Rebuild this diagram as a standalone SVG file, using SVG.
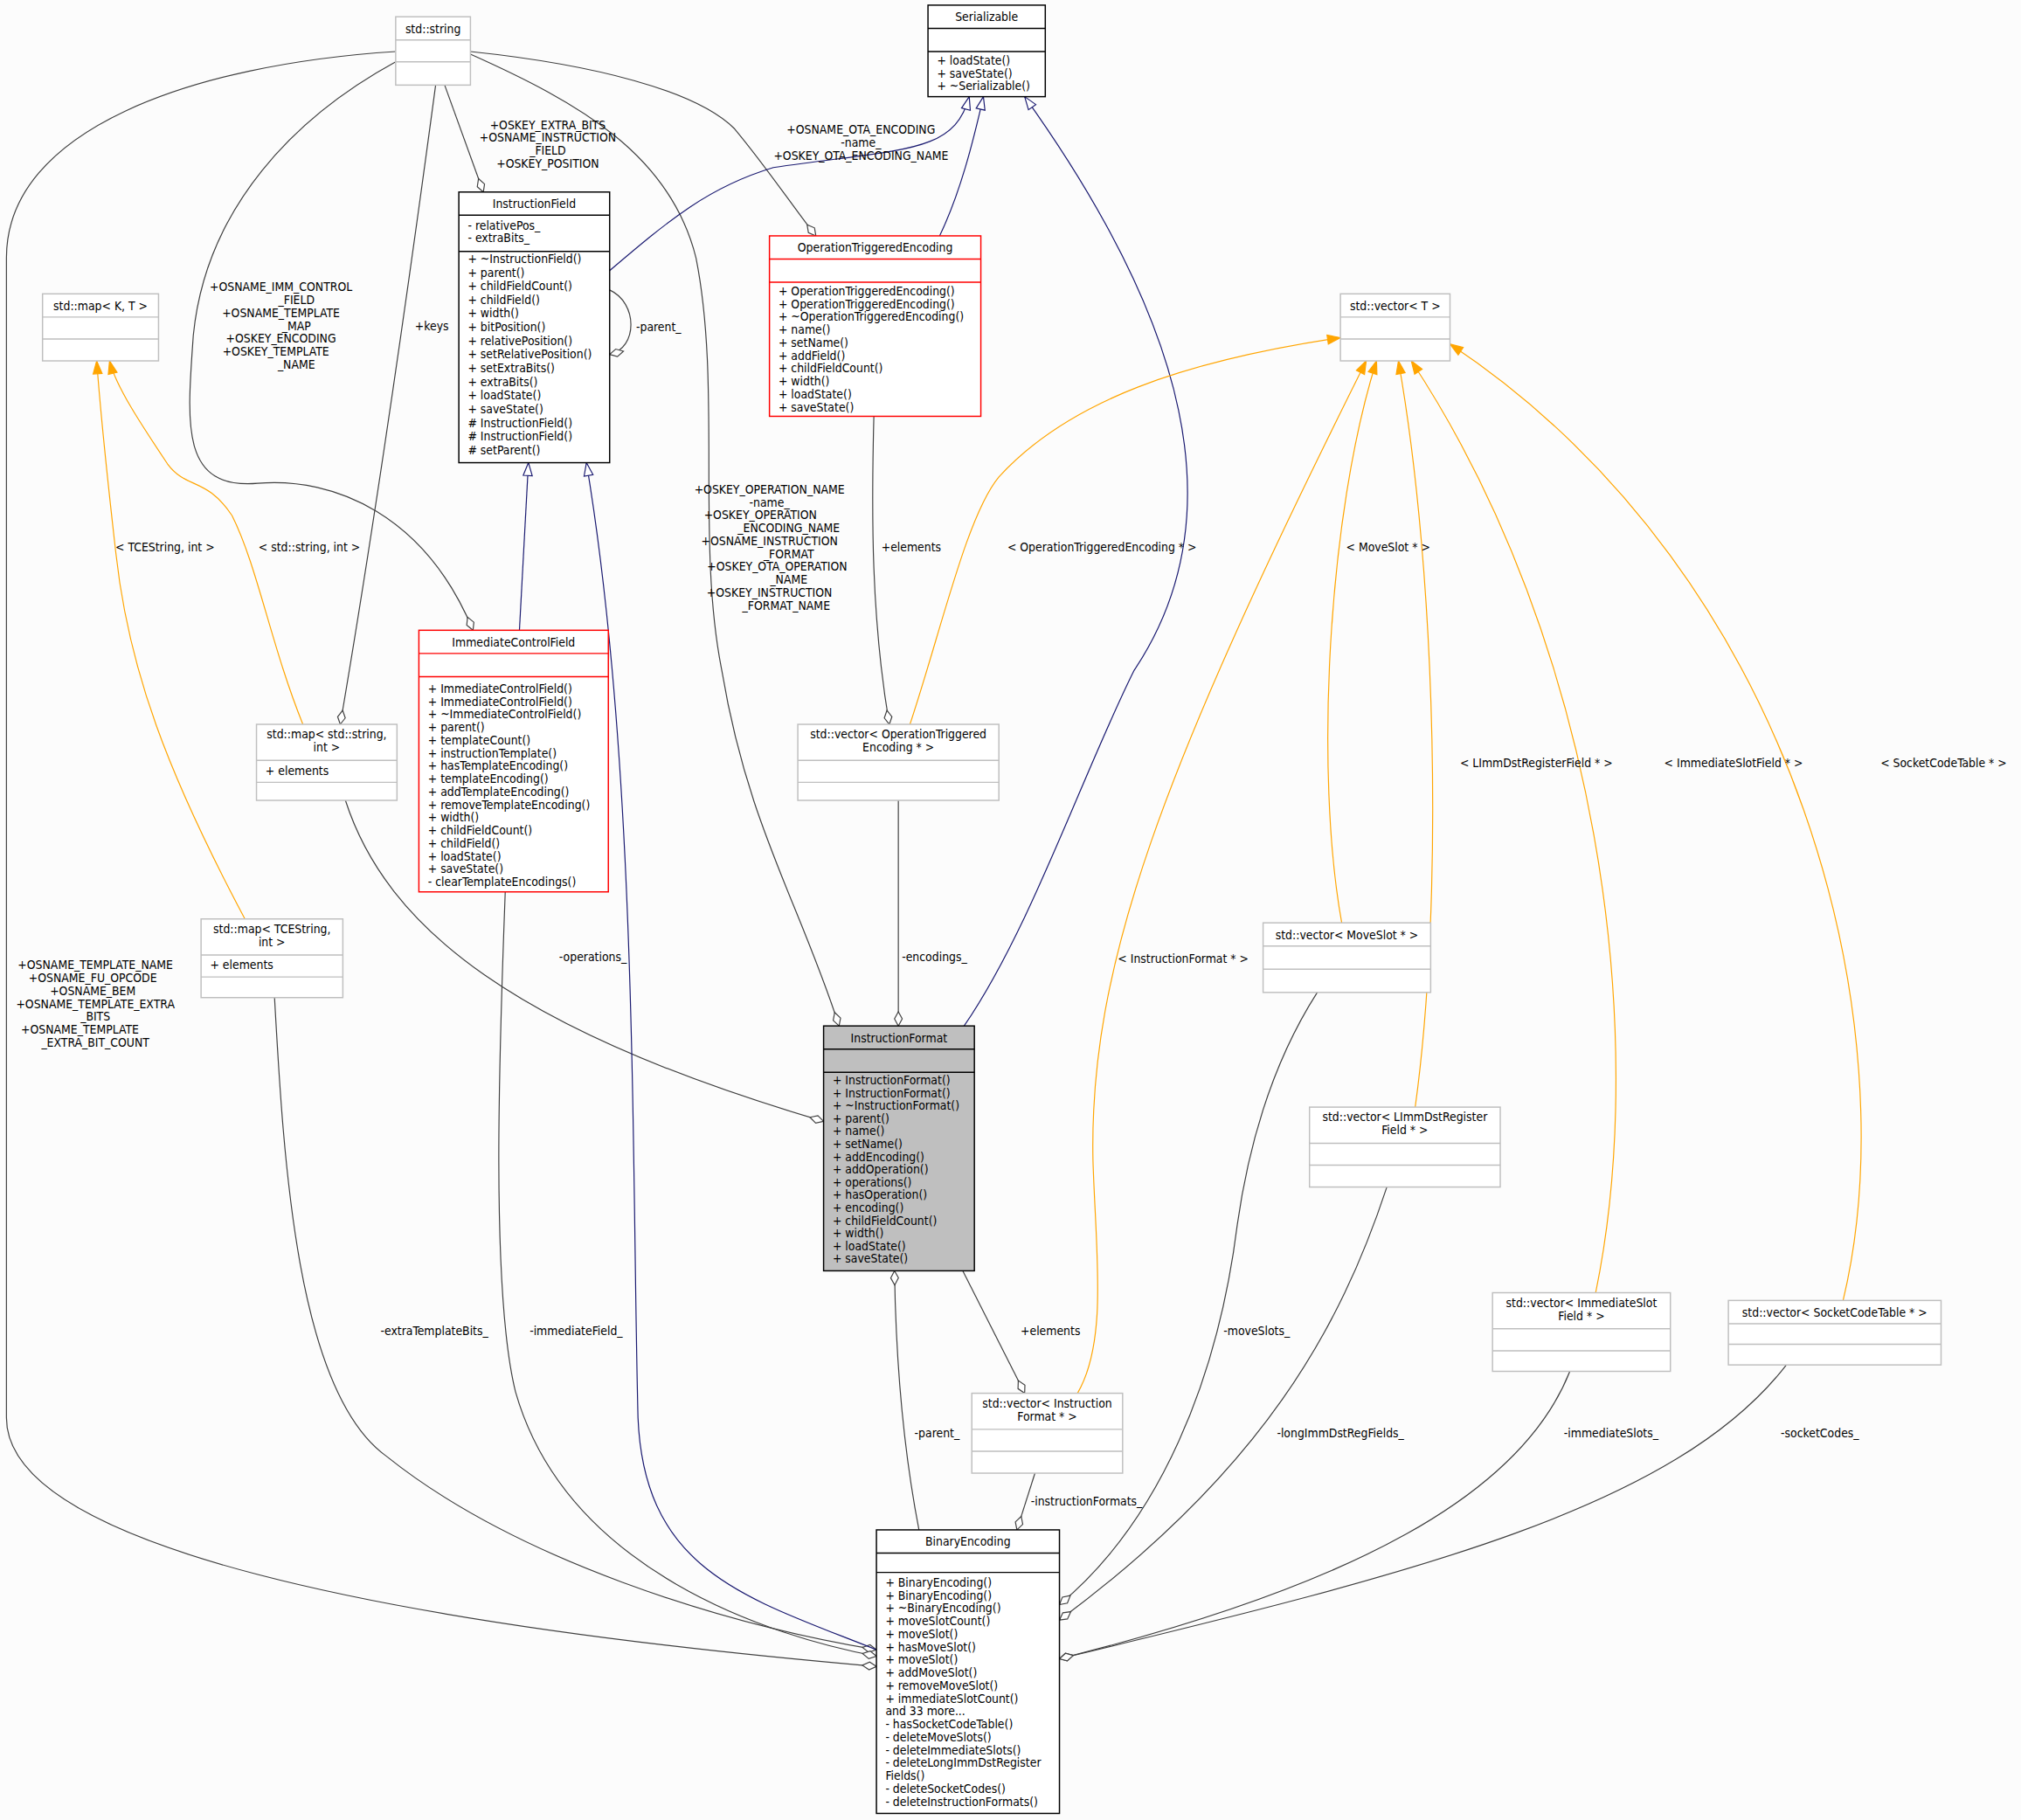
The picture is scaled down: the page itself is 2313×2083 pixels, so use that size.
<svg xmlns="http://www.w3.org/2000/svg" width="2313" height="2083" viewBox="0 0 2313 2083">
<style>
text{font-family:"DejaVu Sans Condensed","Liberation Sans",sans-serif;font-size:9.4px;fill:#000}
.c{text-anchor:middle}
.bk{fill:#fff;stroke:#000;stroke-width:1}
.gr{fill:#fff;stroke:#bfbfbf;stroke-width:1}
.rd{fill:#fff;stroke:#ff0000;stroke-width:1}
.gy{fill:#bfbfbf;stroke:#000;stroke-width:1}
.a{fill:none;stroke:#404040;stroke-width:0.8;marker-end:url(#dia)}
.i{fill:none;stroke:#191970;stroke-width:0.8;marker-end:url(#tri)}
.t{fill:none;stroke:#ffa500;stroke-width:0.8;marker-end:url(#otri)}
</style>
<defs>
<marker id="dia" markerUnits="userSpaceOnUse" markerWidth="14" markerHeight="10" refX="12" refY="5" orient="auto" viewBox="0 0 14 10"><path d="M12,5 L6.5,2 L1,5 L6.5,8 Z" fill="#fff" stroke="#404040" stroke-width="0.8"/></marker>
<marker id="tri" markerUnits="userSpaceOnUse" markerWidth="12" markerHeight="10" refX="11" refY="5" orient="auto" viewBox="0 0 12 10"><path d="M11,5 L1,1.5 L1,8.5 Z" fill="#fff" stroke="#191970" stroke-width="0.8"/></marker>
<marker id="otri" markerUnits="userSpaceOnUse" markerWidth="12" markerHeight="10" refX="11" refY="5" orient="auto" viewBox="0 0 12 10"><path d="M11,5 L1,1.5 L1,8.5 Z" fill="#ffa500" stroke="#ffa500" stroke-width="0.8"/></marker>
</defs>
<rect width="2313" height="2083" fill="#fcfcfc"/>
<g transform="scale(1.4751)">
<g id="edges">
<path class="a" d="M345,66 L375,149"/>
<path class="a" d="M365,40 C460,50 540,70 570,100 C595,130 615,160 633,183"/>
<path class="a" d="M307,48 C230,90 160,160 150,260 C145,330 140,380 200,375 C260,370 330,400 367,489"/>
<path class="a" d="M338,66 C320,200 295,380 264,562"/>
<path class="a" d="M365,42 C450,80 520,120 540,200 C560,300 540,420 560,520 C580,640 620,700 651,796"/>
<path class="a" d="M307,40 C150,50 5,100 5,200 L5,1100 C5,1200 300,1260 680,1293"/>
<path class="a" d="M473,225 C495,235 495,270 473,275"/>
<path class="a" d="M678,323 C676,400 676,480 690,562"/>
<path class="a" d="M268,621 C300,720 400,800 639,870"/>
<path class="a" d="M697,621 L697,796"/>
<path class="a" d="M747,986 L795,1081"/>
<path class="a" d="M713,1187 C700,1120 695,1050 694,986"/>
<path class="a" d="M803,1143 L789,1187"/>
<path class="a" d="M213,774 C220,900 230,1080 300,1130 C400,1210 560,1260 680,1280"/>
<path class="a" d="M392,692 C388,800 380,1000 400,1080 C440,1220 600,1270 680,1285"/>
<path class="a" d="M1022,770 C990,820 970,880 960,950 C945,1070 900,1180 822,1245"/>
<path class="a" d="M1076,921 C1040,1030 980,1140 822,1257"/>
<path class="a" d="M1218,1064 C1180,1160 1050,1230 822,1287"/>
<path class="a" d="M1386,1059 C1300,1170 1100,1220 822,1287"/>
<path class="i" d="M473,210 C520,170 550,145 600,130 C700,115 740,120 752,75"/>
<path class="i" d="M729,183 C745,150 755,110 763,75"/>
<path class="i" d="M748,796 C800,720 840,600 880,520 C960,400 920,250 795,75"/>
<path class="i" d="M403,489 L410,359"/>
<path class="i" d="M680,1280 C580,1240 500,1220 495,1100 C490,900 495,600 455,359"/>
<path class="t" d="M235,562 C210,500 200,440 180,400 C160,370 145,380 130,360 C110,330 90,300 85,280"/>
<path class="t" d="M190,713 C130,600 100,520 90,430 C82,360 78,320 75,280"/>
<path class="t" d="M706,562 C730,490 750,400 775,370 C830,310 920,280 1040,262"/>
<path class="t" d="M1041,716 C1020,600 1030,400 1068,280"/>
<path class="t" d="M836,1081 C860,1040 850,970 848,900 C845,750 900,600 1060,280"/>
<path class="t" d="M1098,859 C1120,700 1115,450 1085,280"/>
<path class="t" d="M1238,1003 C1280,800 1240,500 1095,280"/>
<path class="t" d="M1430,1009 C1480,800 1400,450 1125,267"/>
<g class="lbl">
<text class="c" x="425" y="100">+OSKEY_EXTRA_BITS</text><text class="c" x="425" y="110">+OSNAME_INSTRUCTION</text><text class="c" x="425" y="120">_FIELD</text><text class="c" x="425" y="130">+OSKEY_POSITION</text>
<text class="c" x="668" y="104">+OSNAME_OTA_ENCODING</text><text class="c" x="668" y="114">-name_</text><text class="c" x="668" y="124">+OSKEY_OTA_ENCODING_NAME</text>
<text class="c" x="218" y="226">+OSNAME_IMM_CONTROL</text><text class="c" x="230" y="236">_FIELD</text><text class="c" x="218" y="246">+OSNAME_TEMPLATE</text><text class="c" x="230" y="256">_MAP</text><text class="c" x="218" y="266">+OSKEY_ENCODING</text><text class="c" x="214" y="276">+OSKEY_TEMPLATE</text><text class="c" x="230" y="286">_NAME</text>
<text class="c" x="335" y="256">+keys</text>
<text class="c" x="511" y="257">-parent_</text>
<text class="c" x="597" y="383">+OSKEY_OPERATION_NAME</text><text class="c" x="597" y="393">-name_</text><text class="c" x="590" y="403">+OSKEY_OPERATION</text><text class="c" x="612" y="413">_ENCODING_NAME</text><text class="c" x="597" y="423">+OSNAME_INSTRUCTION</text><text class="c" x="612" y="433">_FORMAT</text><text class="c" x="603" y="443">+OSKEY_OTA_OPERATION</text><text class="c" x="612" y="453">_NAME</text><text class="c" x="597" y="463">+OSKEY_INSTRUCTION</text><text class="c" x="610" y="473">_FORMAT_NAME</text>
<text class="c" x="707" y="428">+elements</text>
<text class="c" x="128" y="428">&lt; TCEString, int &gt;</text>
<text class="c" x="240" y="428">&lt; std::string, int &gt;</text>
<text class="c" x="855" y="428">&lt; OperationTriggeredEncoding * &gt;</text>
<text class="c" x="1077" y="428">&lt; MoveSlot * &gt;</text>
<text class="c" x="1192" y="595">&lt; LImmDstRegisterField * &gt;</text>
<text class="c" x="1345" y="595">&lt; ImmediateSlotField * &gt;</text>
<text class="c" x="1508" y="595">&lt; SocketCodeTable * &gt;</text>
<text class="c" x="918" y="747">&lt; InstructionFormat * &gt;</text>
<text class="c" x="74" y="752">+OSNAME_TEMPLATE_NAME</text><text class="c" x="72" y="762">+OSNAME_FU_OPCODE</text><text class="c" x="72" y="772">+OSNAME_BEM</text><text class="c" x="74" y="782">+OSNAME_TEMPLATE_EXTRA</text><text class="c" x="74" y="792">_BITS</text><text class="c" x="62" y="802">+OSNAME_TEMPLATE</text><text class="c" x="74" y="812">_EXTRA_BIT_COUNT</text>
<text class="c" x="460" y="746">-operations_</text>
<text class="c" x="725" y="746">-encodings_</text>
<text class="c" x="337" y="1036">-extraTemplateBits_</text>
<text class="c" x="447" y="1036">-immediateField_</text>
<text class="c" x="815" y="1036">+elements</text>
<text class="c" x="975" y="1036">-moveSlots_</text>
<text class="c" x="727" y="1115">-parent_</text>
<text class="c" x="1040" y="1115">-longImmDstRegFields_</text>
<text class="c" x="1250" y="1115">-immediateSlots_</text>
<text class="c" x="1412" y="1115">-socketCodes_</text>
<text class="c" x="843" y="1168">-instructionFormats_</text>
</g>
</g>
<g id="std_string"><rect class="gr" x="307" y="13" width="58" height="53"/><path d="M307,31H365M307,48H365" stroke="#bfbfbf"/><text class="c" x="336" y="25.5">std::string</text></g>
<g id="Serializable"><rect class="bk" x="720" y="4" width="91" height="71"/><path d="M720,22H811M720,40H811" stroke="#000"/><text class="c" x="765.5" y="16.5">Serializable</text><text x="727" y="50">+ loadState()</text><text x="727" y="60">+ saveState()</text><text x="727" y="70">+ ~Serializable()</text></g>
<g id="InstructionField"><rect class="bk" x="356" y="149" width="117" height="210"/><path d="M356,167H473M356,195H473" stroke="#000"/><text class="c" x="414.5" y="161.5">InstructionField</text>
<text x="363" y="178">- relativePos_</text><text x="363" y="188">- extraBits_</text>
<text x="363" y="204">+ ~InstructionField()</text><text x="363" y="214.6">+ parent()</text><text x="363" y="225.2">+ childFieldCount()</text><text x="363" y="235.8">+ childField()</text><text x="363" y="246.4">+ width()</text><text x="363" y="257">+ bitPosition()</text><text x="363" y="267.6">+ relativePosition()</text><text x="363" y="278.2">+ setRelativePosition()</text><text x="363" y="288.8">+ setExtraBits()</text><text x="363" y="299.4">+ extraBits()</text><text x="363" y="310">+ loadState()</text><text x="363" y="320.6">+ saveState()</text><text x="363" y="331.2"># InstructionField()</text><text x="363" y="341.8"># InstructionField()</text><text x="363" y="352.4"># setParent()</text><text x="363" y="363" display="none"></text></g>
<g id="InstructionField_last"><text x="363" y="353.5" display="none"></text></g>
<g id="OperationTriggeredEncoding"><rect class="rd" x="597" y="183" width="164" height="140"/><path d="M597,201H761M597,219H761" stroke="#ff0000"/><text class="c" x="679" y="195.5">OperationTriggeredEncoding</text>
<text x="604" y="229">+ OperationTriggeredEncoding()</text><text x="604" y="239">+ OperationTriggeredEncoding()</text><text x="604" y="249">+ ~OperationTriggeredEncoding()</text><text x="604" y="259">+ name()</text><text x="604" y="269">+ setName()</text><text x="604" y="279">+ addField()</text><text x="604" y="289">+ childFieldCount()</text><text x="604" y="299">+ width()</text><text x="604" y="309">+ loadState()</text><text x="604" y="319">+ saveState()</text></g>
<g id="map_KT"><rect class="gr" x="33" y="228" width="90" height="52"/><path d="M33,246H123M33,263H123" stroke="#bfbfbf"/><text class="c" x="78" y="240.5">std::map&lt; K, T &gt;</text></g>
<g id="vector_T"><rect class="gr" x="1040" y="228" width="85" height="52"/><path d="M1040,246H1125M1040,263H1125" stroke="#bfbfbf"/><text class="c" x="1082.5" y="240.5">std::vector&lt; T &gt;</text></g>
<g id="ImmediateControlField"><rect class="rd" x="325" y="489" width="147" height="203"/><path d="M325,507H472M325,525H472" stroke="#ff0000"/><text class="c" x="398.5" y="501.5">ImmediateControlField</text>
<text x="332" y="537.5">+ ImmediateControlField()</text><text x="332" y="547.5">+ ImmediateControlField()</text><text x="332" y="557.5">+ ~ImmediateControlField()</text><text x="332" y="567.5">+ parent()</text><text x="332" y="577.5">+ templateCount()</text><text x="332" y="587.5">+ instructionTemplate()</text><text x="332" y="597.5">+ hasTemplateEncoding()</text><text x="332" y="607.5">+ templateEncoding()</text><text x="332" y="617.5">+ addTemplateEncoding()</text><text x="332" y="627.5">+ removeTemplateEncoding()</text><text x="332" y="637.5">+ width()</text><text x="332" y="647.5">+ childFieldCount()</text><text x="332" y="657.5">+ childField()</text><text x="332" y="667.5">+ loadState()</text><text x="332" y="677.5">+ saveState()</text><text x="332" y="687.5">- clearTemplateEncodings()</text></g>
<g id="map_string_int"><rect class="gr" x="199" y="562" width="109" height="59"/><path d="M199,590H308M199,607H308" stroke="#bfbfbf"/><text class="c" x="253.5" y="573">std::map&lt; std::string,</text><text class="c" x="253.5" y="583">int &gt;</text><text x="206" y="601">+ elements</text></g>
<g id="vector_OTE"><rect class="gr" x="619" y="562" width="156" height="59"/><path d="M619,590H775M619,607H775" stroke="#bfbfbf"/><text class="c" x="697" y="573">std::vector&lt; OperationTriggered</text><text class="c" x="697" y="583">Encoding * &gt;</text></g>
<g id="map_TCEString_int"><rect class="gr" x="156" y="713" width="110" height="61"/><path d="M156,741H266M156,758H266" stroke="#bfbfbf"/><text class="c" x="211" y="724">std::map&lt; TCEString,</text><text class="c" x="211" y="734">int &gt;</text><text x="163" y="752">+ elements</text></g>
<g id="vector_MoveSlot"><rect class="gr" x="980" y="716" width="130" height="54"/><path d="M980,734H1110M980,752H1110" stroke="#bfbfbf"/><text class="c" x="1045" y="728.5">std::vector&lt; MoveSlot * &gt;</text></g>
<g id="InstructionFormat"><rect class="gy" x="639" y="796" width="117" height="190"/><path d="M639,814H756M639,832H756" stroke="#000"/><text class="c" x="697.5" y="808.5">InstructionFormat</text>
<text x="646" y="841.3">+ InstructionFormat()</text><text x="646" y="851.2">+ InstructionFormat()</text><text x="646" y="861.1">+ ~InstructionFormat()</text><text x="646" y="871">+ parent()</text><text x="646" y="880.9">+ name()</text><text x="646" y="890.8">+ setName()</text><text x="646" y="900.7">+ addEncoding()</text><text x="646" y="910.6">+ addOperation()</text><text x="646" y="920.5">+ operations()</text><text x="646" y="930.4">+ hasOperation()</text><text x="646" y="940.3">+ encoding()</text><text x="646" y="950.2">+ childFieldCount()</text><text x="646" y="960.1">+ width()</text><text x="646" y="970">+ loadState()</text><text x="646" y="979.9">+ saveState()</text></g>
<g id="vector_LImm"><rect class="gr" x="1016" y="859" width="148" height="62"/><path d="M1016,887H1164M1016,904H1164" stroke="#bfbfbf"/><text class="c" x="1090" y="870">std::vector&lt; LImmDstRegister</text><text class="c" x="1090" y="880">Field * &gt;</text></g>
<g id="vector_ImmSlot"><rect class="gr" x="1158" y="1003" width="138" height="61"/><path d="M1158,1031H1296M1158,1048H1296" stroke="#bfbfbf"/><text class="c" x="1227" y="1014">std::vector&lt; ImmediateSlot</text><text class="c" x="1227" y="1024">Field * &gt;</text></g>
<g id="vector_Socket"><rect class="gr" x="1341" y="1009" width="165" height="50"/><path d="M1341,1027H1506M1341,1043H1506" stroke="#bfbfbf"/><text class="c" x="1423.5" y="1021.5">std::vector&lt; SocketCodeTable * &gt;</text></g>
<g id="vector_IF"><rect class="gr" x="754" y="1081" width="117" height="62"/><path d="M754,1109H871M754,1126H871" stroke="#bfbfbf"/><text class="c" x="812.5" y="1092">std::vector&lt; Instruction</text><text class="c" x="812.5" y="1102">Format * &gt;</text></g>
<g id="BinaryEncoding"><rect class="bk" x="680" y="1187" width="142" height="220"/><path d="M680,1205H822M680,1220H822" stroke="#000"/><text class="c" x="751" y="1199.5">BinaryEncoding</text>
<text x="687" y="1231">+ BinaryEncoding()</text><text x="687" y="1241">+ BinaryEncoding()</text><text x="687" y="1251">+ ~BinaryEncoding()</text><text x="687" y="1261">+ moveSlotCount()</text><text x="687" y="1271">+ moveSlot()</text><text x="687" y="1281">+ hasMoveSlot()</text><text x="687" y="1291">+ moveSlot()</text><text x="687" y="1301">+ addMoveSlot()</text><text x="687" y="1311">+ removeMoveSlot()</text><text x="687" y="1321">+ immediateSlotCount()</text><text x="687" y="1331">and 33 more...</text><text x="687" y="1341">- hasSocketCodeTable()</text><text x="687" y="1351">- deleteMoveSlots()</text><text x="687" y="1361">- deleteImmediateSlots()</text><text x="687" y="1371">- deleteLongImmDstRegister</text><text x="687" y="1381">Fields()</text><text x="687" y="1391">- deleteSocketCodes()</text><text x="687" y="1401">- deleteInstructionFormats()</text></g>
</g>
</svg>
